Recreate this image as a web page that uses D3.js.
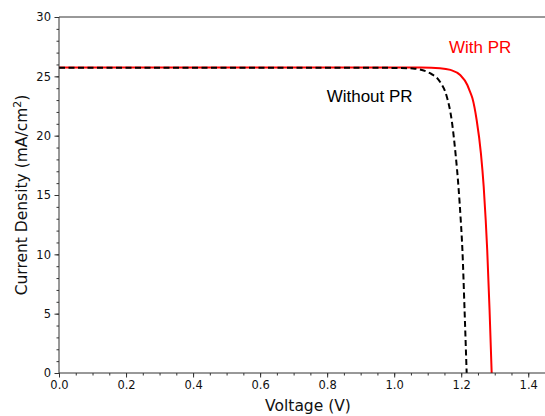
<!DOCTYPE html>
<html>
<head>
<meta charset="utf-8">
<script src="https://cdn.jsdelivr.net/npm/d3@7"></script>
<style>
  html, body { margin: 0; padding: 0; background: #fff; }
  svg { display: block; }
</style>
</head>
<body>
<svg id="chart" width="545" height="416"></svg>
<script>
// J–V curves of the cell with and without the PR layer
const voltageWithout = [0.0, 0.5, 0.9, 1.0, 1.0561, 1.1068, 1.1366, 1.1556, 1.1715, 1.1830, 1.1918, 1.1986, 1.2036, 1.2100, 1.2163];
const currentWithout = [25.73, 25.73, 25.72, 25.71, 25.66, 25.26, 24.55, 23.42, 21.32, 18.51, 15.70, 12.89, 10.36, 5.31, 0.0];

const voltageWith = [0.0, 0.5, 1.0, 1.08, 1.1366, 1.1680, 1.1970, 1.2183, 1.2250, 1.2335, 1.2461, 1.2588, 1.2671, 1.2731, 1.2776, 1.2846, 1.2909];
const currentWith = [25.75, 25.75, 25.75, 25.74, 25.69, 25.54, 25.11, 24.27, 23.80, 23.15, 21.32, 18.51, 15.70, 12.89, 10.36, 5.31, 0.0];

const xTicks = [0.0, 0.2, 0.4, 0.6, 0.8, 1.0, 1.2, 1.4];
const yTicks = [0, 5, 10, 15, 20, 25, 30];

const seriesLabels = ["Without PR", "With PR"];

const margin = { left: 59, top: 17, right: 0, bottom: 43 };
const W = 545, H = 416;

const svg = d3.select("#chart");

const x = d3.scaleLinear().domain([0, 1.45]).range([margin.left, W - margin.right]);
const y = d3.scaleLinear().domain([0, 30]).range([H - margin.bottom, margin.top]);

const line = d3.line()
  .x(d => x(d[0]))
  .y(d => y(d[1]))
  .curve(d3.curveMonotoneX);

const ptsWithout = voltageWithout.map((v, i) => [v, currentWithout[i]]);
const ptsWith = voltageWith.map((v, i) => [v, currentWith[i]]);

// red solid curve underneath, black dashed curve on top
svg.append("path")
  .attr("d", line(ptsWith))
  .attr("fill", "none")
  .attr("stroke", "#ff0000")
  .attr("stroke-width", 2);

svg.append("path")
  .attr("d", line(ptsWithout))
  .attr("fill", "none")
  .attr("stroke", "#000")
  .attr("stroke-width", 2)
  .attr("stroke-dasharray", "6,3.5");

// axes
const tickFont = "'DejaVu Sans', sans-serif";
const axisColor = "#333";

const xAxis = svg.append("g")
  .attr("transform", `translate(0,${y(0)})`)
  .call(d3.axisBottom(x).tickValues(xTicks).tickFormat(d3.format(".1f")).tickSize(4.5).tickPadding(3.5));

const xMinor = svg.append("g")
  .attr("transform", `translate(0,${y(0)})`)
  .call(d3.axisBottom(x).tickValues(d3.range(0, 1.4501, 0.05)).tickFormat("").tickSize(2.5));

const yAxis = svg.append("g")
  .attr("transform", `translate(${x(0)},0)`)
  .call(d3.axisLeft(y).tickValues(yTicks).tickFormat(d3.format("d")).tickSize(4.5).tickPadding(3.5));

const yMinor = svg.append("g")
  .attr("transform", `translate(${x(0)},0)`)
  .call(d3.axisLeft(y).tickValues(d3.range(0, 30.01, 1)).tickFormat("").tickSize(2.5));

[xAxis, xMinor, yAxis, yMinor].forEach(g => {
  g.select(".domain").remove();
  g.selectAll("line").attr("stroke", axisColor).attr("stroke-width", 1);
  g.selectAll("text")
    .attr("font-family", tickFont)
    .attr("font-size", "11.5px")
    .attr("fill", "#111");
});

// spines: left, bottom, top
svg.append("line")
  .attr("x1", x(0)).attr("x2", x(0))
  .attr("y1", y(30)).attr("y2", y(0))
  .attr("stroke", axisColor).attr("stroke-width", 1);
svg.append("line")
  .attr("x1", x(0)).attr("x2", W)
  .attr("y1", y(0)).attr("y2", y(0))
  .attr("stroke", axisColor).attr("stroke-width", 1);
svg.append("line")
  .attr("x1", x(0)).attr("x2", W)
  .attr("y1", y(30)).attr("y2", y(30))
  .attr("stroke", axisColor).attr("stroke-width", 1);

// axis titles
svg.append("text")
  .attr("x", (x(0) + W) / 2 + 6)
  .attr("y", 410.5)
  .attr("text-anchor", "middle")
  .attr("font-family", tickFont)
  .attr("font-size", "15.5px")
  .attr("fill", "#111")
  .text("Voltage (V)");

const yTitle = svg.append("text")
  .attr("transform", `translate(27,${(y(0) + y(30)) / 2}) rotate(-90)`)
  .attr("text-anchor", "middle")
  .attr("font-family", tickFont)
  .attr("font-size", "15.5px")
  .attr("fill", "#111");
yTitle.append("tspan").text("Current Density (mA/cm");
yTitle.append("tspan").attr("font-size", "11px").attr("dy", -6).text("2");
yTitle.append("tspan").attr("dy", 6).text(")");

// curve annotations
const labelFont = "'Liberation Sans', Arial, sans-serif";
svg.append("text")
  .attr("x", x(0.7986)).attr("y", y(22.86))
  .attr("font-family", labelFont)
  .attr("font-size", "17px")
  .attr("fill", "#000")
  .text(seriesLabels[0]);

svg.append("text")
  .attr("x", x(1.1635)).attr("y", y(26.97))
  .attr("font-family", labelFont)
  .attr("font-size", "17px")
  .attr("fill", "#ff0000")
  .text(seriesLabels[1]);
</script>
</body>
</html>
